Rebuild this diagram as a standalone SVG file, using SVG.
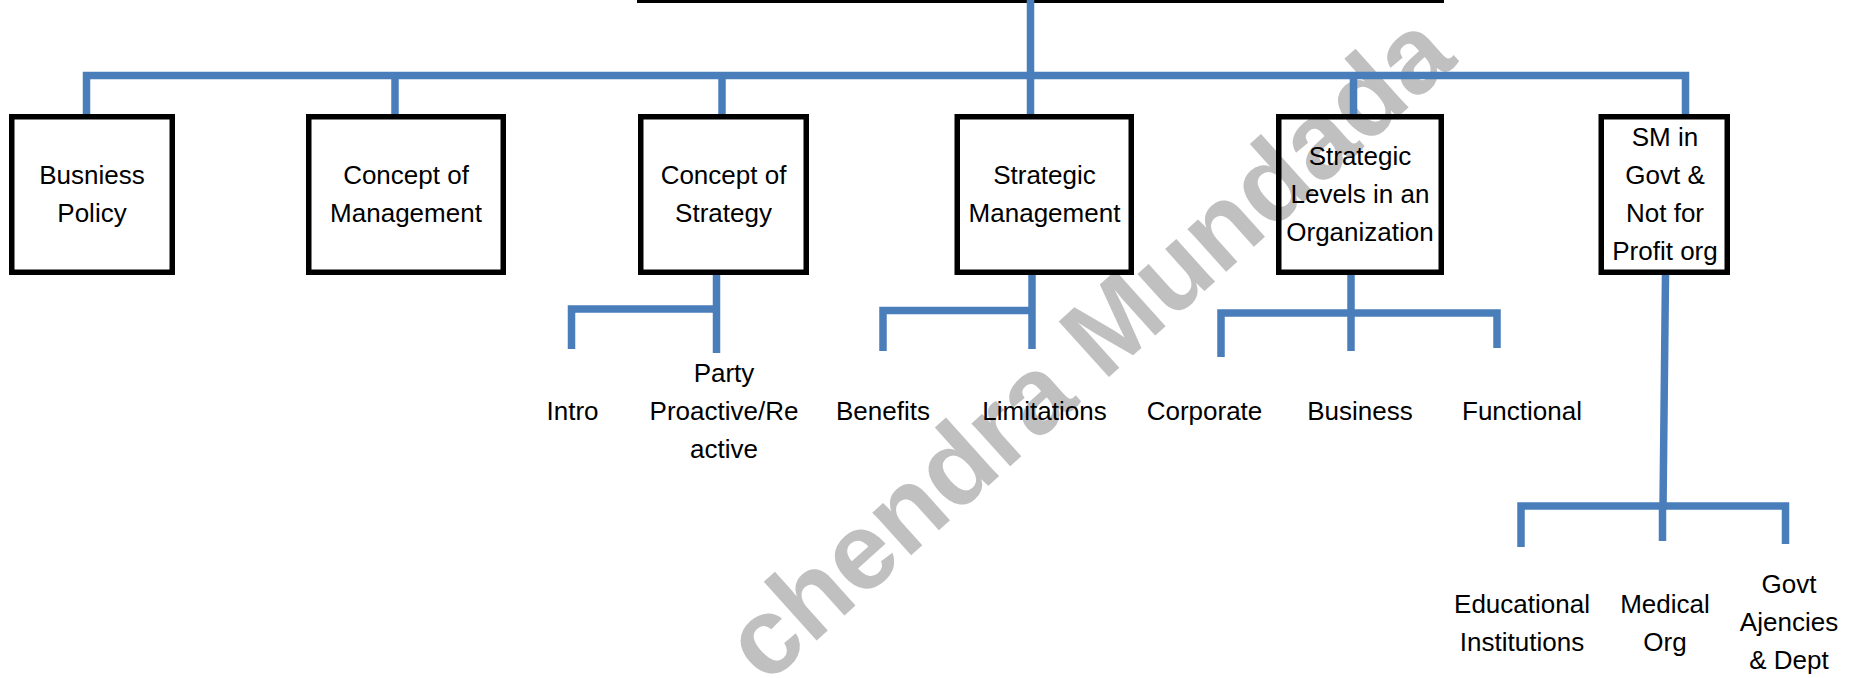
<svg xmlns="http://www.w3.org/2000/svg" width="1849" height="678" viewBox="0 0 1849 678">
<style>
.bg{fill:#ffffff}
.wm{font-family:"Liberation Sans",Arial,sans-serif;font-weight:bold;font-size:109px;fill:#c0c0c0}
.box{fill:none;stroke:#000000;stroke-width:5.5}
.con{fill:none;stroke:#4a7ebb;stroke-width:7.5;stroke-linejoin:miter;stroke-linecap:butt}
.t{font-family:"Liberation Sans",Arial,sans-serif;font-size:26px;fill:#000000;text-anchor:middle}
</style>
<rect class="bg" x="0" y="0" width="1849" height="678"/>
<text class="wm" x="766" y="686" transform="rotate(-42 766 686)">chendra Mundada</text>
<rect x="637" y="-3" width="807" height="6" fill="#000000"/>
<g id="connectors">
<path class="con" d="M86.5 115 V75.5 H1685.5 V117"/>
<path class="con" d="M395 75.5 V115"/>
<path class="con" d="M722 75.5 V115"/>
<path class="con" d="M1030.5 0 V115"/>
<path class="con" d="M1353.5 75.5 V116"/>
<path class="con" d="M716.5 275 V353"/>
<path class="con" d="M571.5 349 V309 H716.5"/>
<path class="con" d="M1032 275 V349"/>
<path class="con" d="M883 351 V310.5 H1032"/>
<path class="con" d="M1351 275 V351"/>
<path class="con" d="M1221 357 V313 H1497 V348"/>
<path class="con" d="M1665.5 275 L1663 507"/>
<path class="con" d="M1521 547 V506 H1785.5 V544"/>
<path class="con" d="M1662.5 506 V541"/>
</g>
<g id="n-busniess-policy">
<rect class="box" x="11.75" y="116.75" width="160.5" height="155.5"/>
<text class="t" x="92" y="184">Busniess</text>
<text class="t" x="92" y="222">Policy</text>
</g>
<g id="n-concept-management">
<rect class="box" x="308.75" y="116.75" width="194.5" height="155.5"/>
<text class="t" x="406" y="184">Concept of</text>
<text class="t" x="406" y="222">Management</text>
</g>
<g id="n-concept-strategy">
<rect class="box" x="640.75" y="116.75" width="165.5" height="155.5"/>
<text class="t" x="723.5" y="184">Concept of</text>
<text class="t" x="723.5" y="222">Strategy</text>
</g>
<g id="n-strategic-management">
<rect class="box" x="957.25" y="116.75" width="174" height="155.5"/>
<text class="t" x="1044.5" y="184">Strategic</text>
<text class="t" x="1044.5" y="222">Management</text>
</g>
<g id="n-strategic-levels">
<rect class="box" x="1278.75" y="116.75" width="162.5" height="155.5"/>
<text class="t" x="1360" y="165">Strategic</text>
<text class="t" x="1360" y="203">Levels in an</text>
<text class="t" x="1360" y="241">Organization</text>
</g>
<g id="n-sm-govt">
<rect class="box" x="1601.25" y="116.75" width="126" height="155.5"/>
<text class="t" x="1665" y="146">SM in</text>
<text class="t" x="1665" y="184">Govt &amp;</text>
<text class="t" x="1665" y="222">Not for</text>
<text class="t" x="1665" y="260">Profit org</text>
</g>
<g id="n-intro"><text class="t" x="572.5" y="420">Intro</text></g>
<g id="n-party">
<text class="t" x="724" y="382">Party</text>
<text class="t" x="724" y="420">Proactive/Re</text>
<text class="t" x="724" y="458">active</text>
</g>
<g id="n-benefits"><text class="t" x="883" y="420">Benefits</text></g>
<g id="n-limitations"><text class="t" x="1044.5" y="420">Limitations</text></g>
<g id="n-corporate"><text class="t" x="1204.5" y="420">Corporate</text></g>
<g id="n-business"><text class="t" x="1360" y="420">Business</text></g>
<g id="n-functional"><text class="t" x="1522" y="420">Functional</text></g>
<g id="n-educational">
<text class="t" x="1522" y="613">Educational</text>
<text class="t" x="1522" y="651">Institutions</text>
</g>
<g id="n-medical">
<text class="t" x="1665" y="613">Medical</text>
<text class="t" x="1665" y="651">Org</text>
</g>
<g id="n-govt-agencies">
<text class="t" x="1789" y="593">Govt</text>
<text class="t" x="1789" y="631">Ajencies</text>
<text class="t" x="1789" y="669">&amp; Dept</text>
</g>
</svg>
